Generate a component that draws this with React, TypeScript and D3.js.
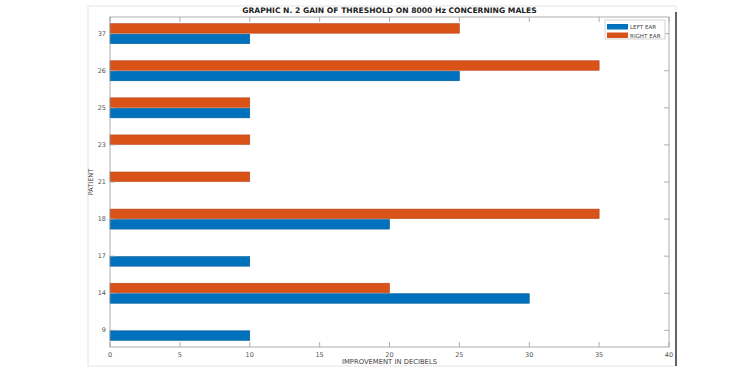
import React from 'react';
import * as d3 from 'd3';

// patients, bottom to top as MATLAB draws them
const patients = ['9', '14', '17', '18', '21', '23', '25', '26', '37'];
const leftEar = [10, 30, 10, 20, 0, 0, 10, 25, 10];
const rightEar = [0, 20, 0, 35, 10, 10, 10, 35, 25];
const xTicks = [0, 5, 10, 15, 20, 25, 30, 35, 40];
const seriesNames = ['LEFT EAR', 'RIGHT EAR'];
const seriesColors = ['#0072BD', '#D95319'];

const W = 750;
const H = 375;
const m = { left: 110, right: 669, top: 17, bottom: 347 };

const App: React.FC = () => {
  const x = d3.scaleLinear().domain([0, 40]).range([m.left, m.right]);
  const y = d3.scalePoint<string>().domain(patients).range([m.bottom, m.top]).padding(0.45);
  const barH = 9.5;
  const font = '"DejaVu Sans", sans-serif';
  const tickLen = 5;

  return (
    <svg width={W} height={H} style={{ position: 'absolute', left: 0, top: 0, background: '#fff' }}>
      {/* figure frame */}
      <rect x={88} y={6} width={588} height={360} fill="#fff" stroke="#e4e4e4" strokeWidth={1} />
      <line x1={676} x2={676} y1={12} y2={366} stroke="#333" strokeWidth={1.5} />

      <text x={(m.left + m.right) / 2} y={13} textAnchor="middle" fontFamily={font} fontWeight="bold" fontSize={7.6} fill="#222">
        GRAPHIC N. 2 GAIN OF THRESHOLD ON 8000 Hz CONCERNING MALES
      </text>

      {/* bars */}
      {patients.map((p, i) => {
        const cy = y(p) as number;
        return (
          <g key={p}>
            <rect x={x(0)} y={cy - barH - 0.5} width={x(rightEar[i]) - x(0)} height={barH}
              fill={seriesColors[1]} stroke="#b8441a" strokeWidth={0.6} />
            <rect x={x(0)} y={cy + 0.5} width={x(leftEar[i]) - x(0)} height={barH}
              fill={seriesColors[0]} stroke="#005a96" strokeWidth={0.6} />
          </g>
        );
      })}

      {/* axes box */}
      <rect x={m.left} y={m.top} width={m.right - m.left} height={m.bottom - m.top} fill="none" stroke="#9a9a9a" strokeWidth={0.8} />
      {xTicks.map(t => (
        <g key={t}>
          <line x1={x(t)} x2={x(t)} y1={m.bottom} y2={m.bottom - tickLen} stroke="#9a9a9a" strokeWidth={0.8} />
          <line x1={x(t)} x2={x(t)} y1={m.top} y2={m.top + tickLen} stroke="#9a9a9a" strokeWidth={0.8} />
          <text x={x(t)} y={m.bottom + 10} textAnchor="middle" fontFamily={font} fontSize={6.5} fill="#555">{t}</text>
        </g>
      ))}
      {patients.map(p => (
        <g key={p}>
          <line x1={m.left} x2={m.left + tickLen} y1={y(p)} y2={y(p)} stroke="#9a9a9a" strokeWidth={0.8} />
          <line x1={m.right} x2={m.right - tickLen} y1={y(p)} y2={y(p)} stroke="#9a9a9a" strokeWidth={0.8} />
          <text x={m.left - 4} y={(y(p) as number) + 2} textAnchor="end" fontFamily={font} fontSize={6.5} fill="#555">{p}</text>
        </g>
      ))}

      <text x={(m.left + m.right) / 2} y={364} textAnchor="middle" fontFamily={font} fontSize={6.8} fill="#444">
        IMPROVEMENT IN DECIBELS
      </text>
      <text transform={`translate(93,${(m.top + m.bottom) / 2}) rotate(-90)`} textAnchor="middle" fontFamily={font} fontSize={6.5} fill="#444">
        PATIENT
      </text>

      {/* legend */}
      <g transform="translate(605,20)">
        <rect x={0} y={0} width={60} height={19} fill="#fff" stroke="#c8c8c8" strokeWidth={0.8} />
        {seriesNames.map((s, i) => (
          <g key={s} transform={`translate(0,${4 + i * 8.5})`}>
            <rect x={2} y={0} width={21} height={5.5} fill={seriesColors[i]} />
            <text x={25} y={5} fontFamily={font} fontSize={5.6} fill="#444">{s}</text>
          </g>
        ))}
      </g>
    </svg>
  );
};

export default App;
